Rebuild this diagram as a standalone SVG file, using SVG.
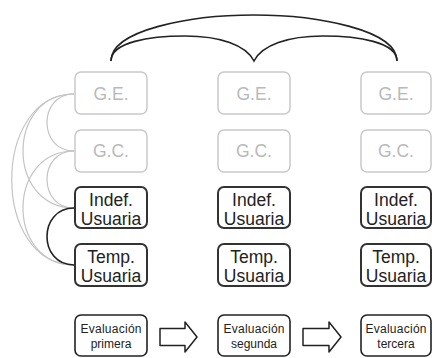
<svg xmlns="http://www.w3.org/2000/svg" width="432" height="358" viewBox="0 0 432 358">
  <style>
    .lite rect { fill: #fff; stroke: #c9c9c9; stroke-width: 1.5; }
    .lite text { fill: #b9b9b9; font-family: "Liberation Sans", Arial, sans-serif; font-size: 17.5px; text-anchor: middle; }
    .dark rect { fill: #fff; stroke: #333; stroke-width: 2; }
    .dark text { fill: #222; font-family: "Liberation Sans", Arial, sans-serif; font-size: 17.5px; text-anchor: middle; }
    .eval rect { fill: #fff; stroke: #222; stroke-width: 1.6; }
    .eval text { fill: #222; font-family: "Liberation Sans", Arial, sans-serif; font-size: 12px; text-anchor: middle; }
    .link-gray { fill: none; stroke: #c4c4c4; stroke-width: 1.2; }
    .link-dark { fill: none; stroke: #222; stroke-width: 1.6; }
    .block-arrow { fill: #fff; stroke: #222; stroke-width: 1.5; stroke-linejoin: round; }
  </style>

  <rect width="432" height="358" fill="#fff"/>

  <!-- connectors -->
  <g id="connectors">
    <!-- brace over the three columns -->
    <path class="link-dark" d="M111,61 C111,30 190,15 254,15 C318,15 397,30 397,61"/>
    <path class="link-dark" d="M111,61 C111,42 150,36 185,36 C220,36 246,45 254,61 C262,45 288,36 323,36 C358,36 397,42 397,61"/>
    <!-- links among the first column -->
    <path class="link-gray" d="M74,94 C38,94 38,151 74,151"/>
    <path class="link-gray" d="M74,151 C38,151 38,208 74,208"/>
    <path class="link-gray" d="M74,94 C6,94 6,208 74,208"/>
    <path class="link-gray" d="M74,151 C6,151 6,265 74,265"/>
    <path class="link-gray" d="M74,94 C-9,94 -9,265 74,265"/>
    <path class="link-dark" d="M74,208 C38,208 38,265 74,265"/>
    <!-- block arrows between evaluations -->
    <polygon class="block-arrow" points="160,328.5 185,328.5 185,322 197,337 185,352 185,345.5 160,345.5"/>
    <polygon class="block-arrow" points="303,328.5 329,328.5 329,322 341,337 329,352 329,345.5 303,345.5"/>
  </g>

  <!-- column 1 -->
  <g id="ge1" class="lite"><rect x="75" y="72" width="72" height="42" rx="6"/><text x="111" y="100">G.E.</text></g>
  <g id="gc1" class="lite"><rect x="75" y="130" width="72" height="42" rx="6"/><text x="111" y="157">G.C.</text></g>
  <g id="indef1" class="dark"><rect x="75" y="187" width="72" height="41" rx="6"/><text x="111" y="206">Indef.</text><text x="111" y="224.5">Usuaria</text></g>
  <g id="temp1" class="dark"><rect x="75" y="244" width="72" height="42" rx="6"/><text x="111" y="263">Temp.</text><text x="111" y="281.5">Usuaria</text></g>
  <g id="eval1" class="eval"><rect x="75" y="315" width="72" height="41" rx="6"/><text x="111" y="333" textLength="61">Evaluación</text><text x="111" y="348">primera</text></g>

  <!-- column 2 -->
  <g id="ge2" class="lite"><rect x="218" y="72" width="72" height="42" rx="6"/><text x="254" y="100">G.E.</text></g>
  <g id="gc2" class="lite"><rect x="218" y="130" width="72" height="42" rx="6"/><text x="254" y="157">G.C.</text></g>
  <g id="indef2" class="dark"><rect x="218" y="187" width="72" height="41" rx="6"/><text x="254" y="206">Indef.</text><text x="254" y="224.5">Usuaria</text></g>
  <g id="temp2" class="dark"><rect x="218" y="244" width="72" height="42" rx="6"/><text x="254" y="263">Temp.</text><text x="254" y="281.5">Usuaria</text></g>
  <g id="eval2" class="eval"><rect x="218" y="315" width="72" height="41" rx="6"/><text x="254" y="333" textLength="61">Evaluación</text><text x="254" y="348">segunda</text></g>

  <!-- column 3 -->
  <g id="ge3" class="lite"><rect x="361" y="72" width="70" height="42" rx="6"/><text x="396" y="100">G.E.</text></g>
  <g id="gc3" class="lite"><rect x="361" y="130" width="70" height="42" rx="6"/><text x="396" y="157">G.C.</text></g>
  <g id="indef3" class="dark"><rect x="361" y="187" width="70" height="41" rx="6"/><text x="396" y="206">Indef.</text><text x="396" y="224.5">Usuaria</text></g>
  <g id="temp3" class="dark"><rect x="361" y="244" width="70" height="42" rx="6"/><text x="396" y="263">Temp.</text><text x="396" y="281.5">Usuaria</text></g>
  <g id="eval3" class="eval"><rect x="361" y="315" width="70" height="41" rx="6"/><text x="396" y="333" textLength="61">Evaluación</text><text x="396" y="348">tercera</text></g>
</svg>
